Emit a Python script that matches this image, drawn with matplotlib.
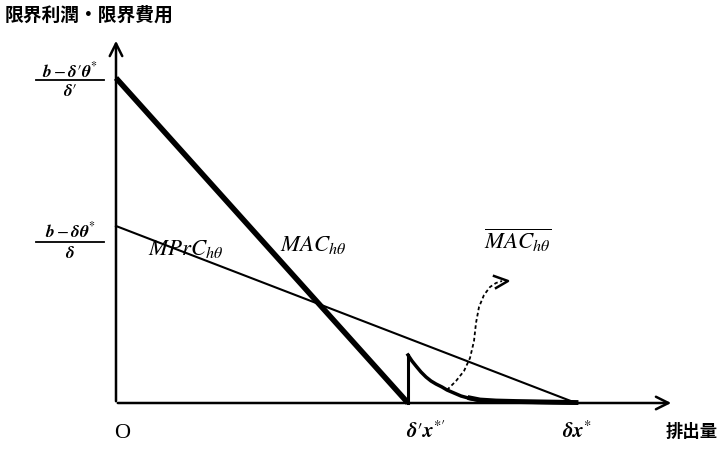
import numpy as np
import matplotlib.pyplot as plt

plt.rcParams['font.family'] = ['Noto Sans CJK JP', 'DejaVu Sans']
plt.rcParams['mathtext.fontset'] = 'stix'

# coordinates in pixel-like units, origin at the axes corner
mac_x = [0, 292]
mac_y = [325, 0]
mprc_x = [0, 460]
mprc_y = [177, 0]
# kink of the modified MAC curve after delta' x*'
spike_x = [292, 292]
spike_y = [0, 48]
decay_x = [292, 296, 300, 305, 310, 315, 320, 326, 331, 338, 345, 354, 364, 380, 400, 430, 460]
decay_y = [48, 42, 37, 31, 26, 22, 19, 16, 13, 10, 7, 4.5, 2.5, 1.5, 1, 0.5, 0]
# dashed pointer to the overline label
ptr_x = [331, 340, 348, 354, 358, 360, 363, 368, 374, 380, 386]
ptr_y = [13, 22, 32, 45, 62, 80, 96, 108, 116, 120, 122]

fig = plt.figure(figsize=(7.25, 4.5), dpi=100)
ax = fig.add_axes([0, 0, 1, 1])
ax.set_xlim(-116, 609)
ax.set_ylim(-47, 403)
ax.axis('off')

# axes with open arrow heads
ax.annotate('', xy=(0, 365), xytext=(0, -1),
            arrowprops=dict(arrowstyle='->,head_length=0.9,head_width=0.45', lw=1.8, color='black'))
ax.annotate('', xy=(558, 0), xytext=(-1, 0),
            arrowprops=dict(arrowstyle='->,head_length=0.9,head_width=0.45', lw=1.8, color='black'))

ax.plot(mac_x, mac_y, color='black', lw=4, solid_capstyle='butt')
ax.plot(mprc_x, mprc_y, color='black', lw=1.5)
ax.plot(spike_x, spike_y, color='black', lw=2.2)
ax.plot(decay_x, decay_y, color='black', lw=2.5)
ax.plot(decay_x[11:], [d + 0.5 for d in decay_y[11:]], color='black', lw=3.5)
ax.plot(ptr_x, ptr_y, color='black', lw=1.3, linestyle=(0, (2, 1.5)))
ax.plot([378, 392, 380], [127, 122, 115], color='black', lw=1.8)

# text
ax.text(-111, 388, '限界利潤・限界費用', fontsize=13.5, fontweight='bold', ha='left', va='center')
ax.text(602, -29, '排出量', fontsize=12.5, fontweight='bold', ha='right', va='center')
ax.text(6, -30, 'O', fontsize=16, family='Liberation Serif', ha='center', va='center')
ax.text(310, -29, r"$\mathbfit{\delta}\prime\mathbfit{x}^{*\prime}$", fontsize=15, ha='center', va='center')
ax.text(461, -29, r"$\mathbfit{\delta x}^{*}$", fontsize=15, ha='center', va='center')

ax.text(-46, 322, r"$\mathbfit{b}-\mathbfit{\delta}\prime\mathbfit{\theta}^{*}$", fontsize=12.5, ha='center', va='bottom')
ax.plot([-80, -12], [323, 323], color='black', lw=1.3)
ax.text(-46, 321, r"$\mathbfit{\delta}\prime$", fontsize=12.5, ha='center', va='top')

ax.text(-46, 162, r"$\mathbfit{b}-\mathbfit{\delta\theta}^{*}$", fontsize=12.5, ha='center', va='bottom')
ax.plot([-80, -12], [161, 161], color='black', lw=1.3)
ax.text(-46, 159, r"$\mathbfit{\delta}$", fontsize=12.5, ha='center', va='top')

ax.text(70, 155, r"$MPrC_{h\theta}$", fontsize=16.5, ha='center', va='center')
ax.text(197, 158, r"$MAC_{h\theta}$", fontsize=16.5, ha='center', va='center')
ax.text(402, 162, r"$\overline{MAC_{h\theta}}$", fontsize=16.5, ha='center', va='center')

fig.savefig('out.png', dpi=100)
